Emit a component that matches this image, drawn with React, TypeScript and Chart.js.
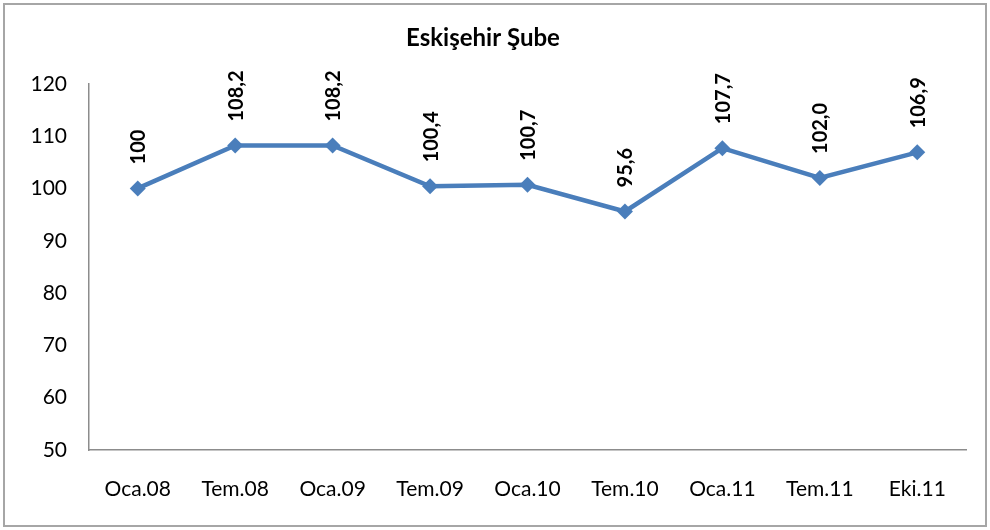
import React, { useEffect, useRef } from "react";
import { Chart, registerables } from "chart.js";

Chart.register(...registerables);

const categories = ["Oca.08", "Tem.08", "Oca.09", "Tem.09", "Oca.10", "Tem.10", "Oca.11", "Tem.11", "Eki.11"];
const values = [100, 108.2, 108.2, 100.4, 100.7, 95.6, 107.7, 102.0, 106.9];
const valueLabels = ["100", "108,2", "108,2", "100,4", "100,7", "95,6", "107,7", "102,0", "106,9"];
const yMin = 50;
const yMax = 120;
const yStep = 10;
const chartTitle = "Eskişehir Şube";

const FONT = "Lato, 'Open Sans', sans-serif";
const LINE_COLOR = "#4a7ebb";

const labelPlugin = {
  id: "rotatedLabels",
  afterDatasetsDraw(chart: any) {
    const ctx = chart.ctx;
    const meta = chart.getDatasetMeta(0);
    ctx.save();
    ctx.fillStyle = "#000";
    ctx.font = `bold 20px ${FONT}`;
    ctx.textAlign = "left";
    ctx.textBaseline = "middle";
    meta.data.forEach((pt: any, i: number) => {
      ctx.save();
      ctx.translate(pt.x + 1, pt.y - 24);
      ctx.rotate(-Math.PI / 2);
      ctx.fillText(valueLabels[i], 0, 0);
      ctx.restore();
    });
    ctx.restore();
  },
};

export default function App() {
  const ref = useRef<HTMLCanvasElement>(null);
  useEffect(() => {
    document.body.style.margin = "0";
    const chart = new Chart(ref.current!, {
      type: "line",
      data: {
        labels: categories,
        datasets: [
          {
            data: values,
            borderColor: LINE_COLOR,
            backgroundColor: LINE_COLOR,
            borderWidth: 4.5,
            pointStyle: "rectRot",
            pointRadius: 8,
            pointBackgroundColor: LINE_COLOR,
            pointBorderColor: LINE_COLOR,
            pointBorderWidth: 0,
            tension: 0,
          },
        ],
      },
      options: {
        animation: false,
        responsive: false,
        maintainAspectRatio: false,
        layout: { padding: { left: 0, right: 24, top: 0, bottom: 0 } },
        plugins: {
          legend: { display: false },
          tooltip: { enabled: false },
          title: {
            display: true,
            text: chartTitle,
            color: "#000",
            font: { family: FONT, size: 24, weight: "bold" },
            padding: { top: 24, bottom: 31 },
          },
        },
        scales: {
          x: {
            offset: true,
            grid: { display: false, drawTicks: false },
            border: { display: true, color: "#8c8c8c", width: 1.5 },
            ticks: { color: "#000", font: { family: FONT, size: 21 }, padding: 27, maxRotation: 0, autoSkip: false },
            afterFit(scale: any) {
              scale.height = 80;
            },
          },
          y: {
            min: yMin,
            max: yMax,
            grid: { display: false, drawTicks: false },
            border: { display: true, color: "#8c8c8c", width: 1.5 },
            ticks: { stepSize: yStep, color: "#000", font: { family: FONT, size: 21 }, padding: 22 },
            afterFit(scale: any) {
              scale.width = 89;
            },
          },
        },
      },
      plugins: [labelPlugin],
    });
    return () => chart.destroy();
  }, []);
  return (
    <div style={{ position: "fixed", left: 0, top: 0, width: 990, height: 530, background: "#fff" }}>
      <div
        style={{
          position: "absolute",
          left: 3,
          top: 3,
          width: 980,
          height: 520,
          border: "2px solid #a6a6a6",
          boxSizing: "content-box",
          pointerEvents: "none",
          zIndex: 1,
        }}
      />
      <canvas ref={ref} width={990} height={530} style={{ position: "absolute", left: 0, top: 0 }} />
    </div>
  );
}
